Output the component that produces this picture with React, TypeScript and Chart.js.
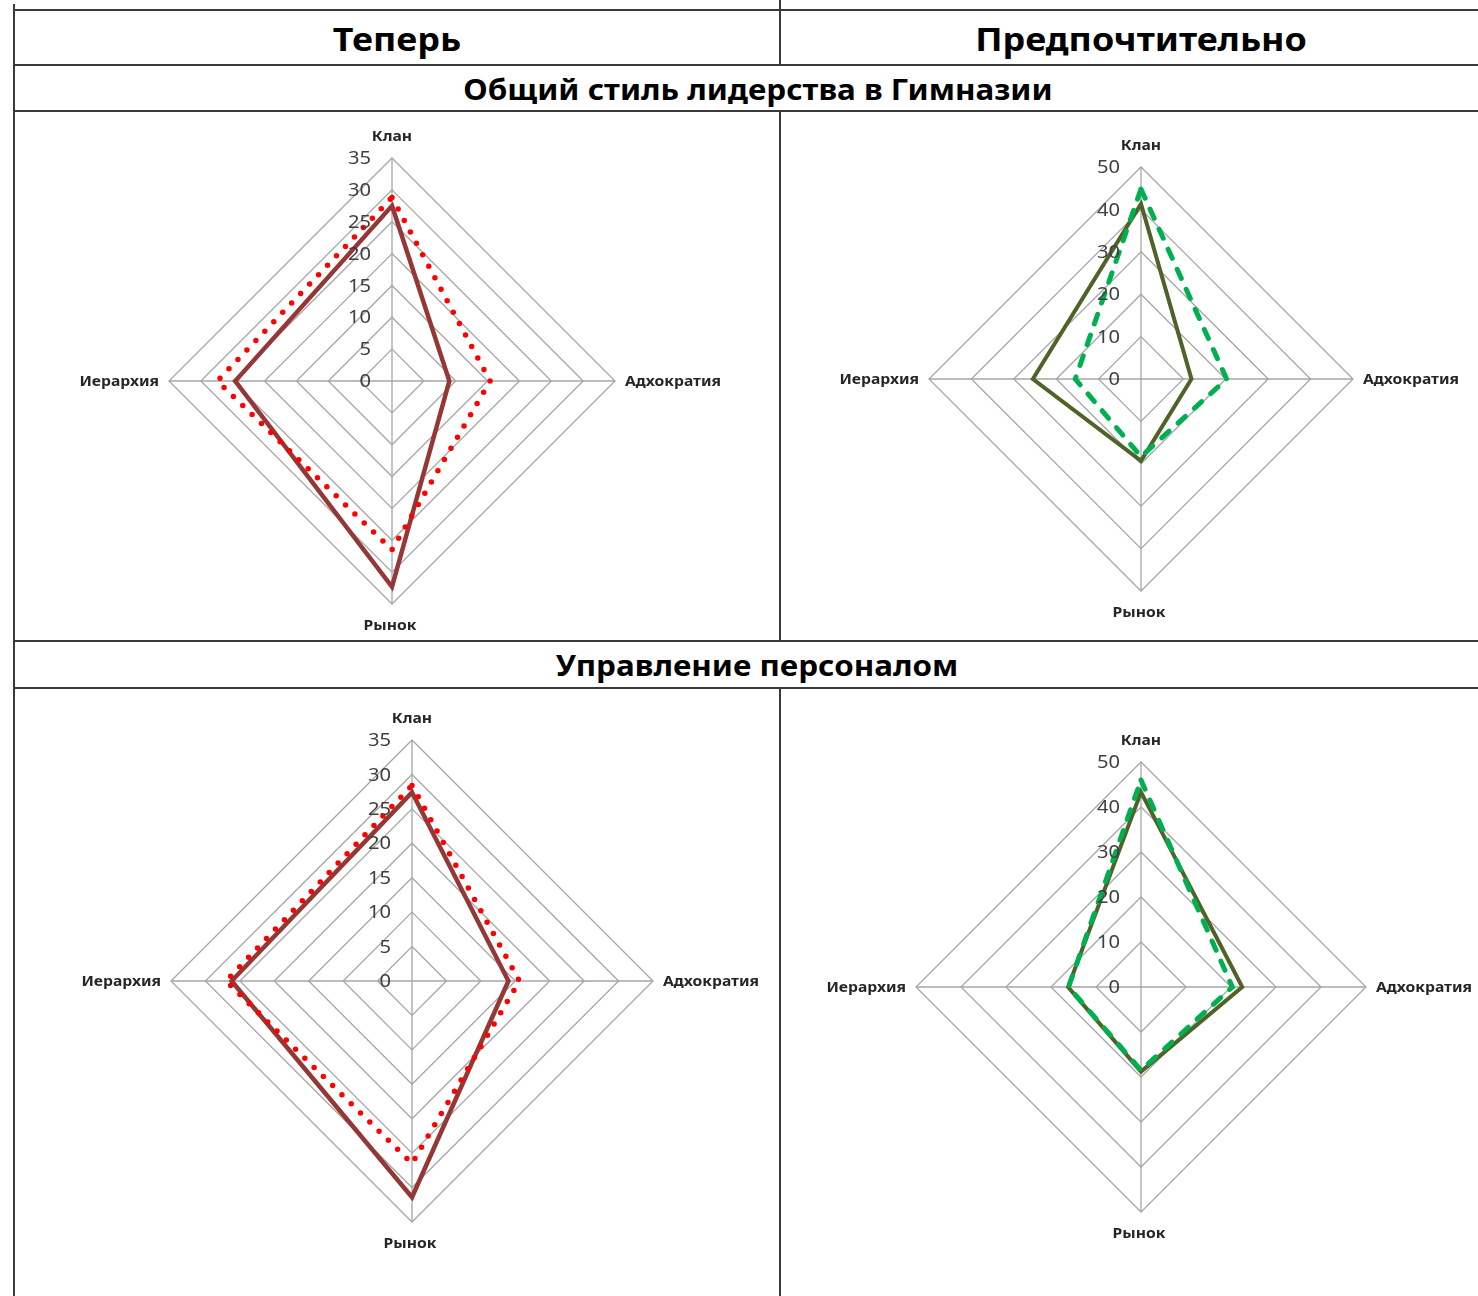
import React, { useEffect, useRef } from 'react';
import Chart from 'chart.js/auto';

// ---- data ----
const categories = ['Клан', 'Адхократия', 'Рынок', 'Иерархия'];
const columnTitles = ['Теперь', 'Предпочтительно'];
const sectionTitles = ['Общий стиль лидерства в Гимназии', 'Управление персоналом'];

const nowMax = 35;
const nowStep = 5;
const prefMax = 50;
const prefStep = 10;

// Общий стиль лидерства — Теперь
const leadNowSolid = [27.5, 9, 32.3, 24.6];
const leadNowDotted = [28.8, 15.4, 26.5, 27.4];
// Общий стиль лидерства — Предпочтительно
const leadPrefSolid = [41.3, 11.9, 19.3, 25.5];
const leadPrefDashed = [44.8, 20.2, 18.3, 15.5];
// Управление персоналом — Теперь
const staffNowSolid = [27.4, 14, 31.4, 26.2];
const staffNowDotted = [28.4, 15.6, 26.5, 27];
// Управление персоналом — Предпочтительно
const staffPrefSolid = [43.3, 22.5, 18.8, 16.2];
const staffPrefDashed = [46, 20.3, 18.5, 16.1];

type Series = {
  data: number[];
  color: string;
  width: number;
  dash: number[];
  cap: CanvasLineCap;
  order: number;
};

const MX = 130;
const MY = 50;
const TEXT_SX = 1.12;

function drawText(ctx: CanvasRenderingContext2D, text: string, x: number, y: number) {
  ctx.save();
  ctx.translate(x, y);
  ctx.scale(TEXT_SX, 1);
  ctx.fillText(text, 0, 0);
  ctx.restore();
}

const labelPlugin = {
  id: 'excelLabels',
  afterDraw(chart: any) {
    const s = chart.scales.r;
    const ctx = chart.ctx as CanvasRenderingContext2D;
    ctx.save();
    // tick labels, right-aligned left of the vertical axis
    ctx.font = '18px "Noto Sans"';
    ctx.fillStyle = '#404040';
    ctx.textAlign = 'right';
    ctx.textBaseline = 'middle';
    s.ticks.forEach((t: any) => {
      const p = s.getPointPositionForValue(0, t.value);
      drawText(ctx, String(t.value), p.x - 21, p.y + 1);
    });
    // category labels
    ctx.font = 'bold 14px "Noto Sans"';
    ctx.fillStyle = '#262626';
    const n = chart.data.labels.length;
    for (let i = 0; i < n; i++) {
      const p = s.getPointPositionForValue(i, s.max);
      const label = chart.data.labels[i];
      const ang = s.getIndexAngle(i);
      const deg = Math.round((ang * 180) / Math.PI) % 360;
      if (deg === 0) {
        ctx.textAlign = 'center';
        drawText(ctx, label, p.x, p.y - 21);
      } else if (deg === 180) {
        ctx.textAlign = 'center';
        drawText(ctx, label, p.x - 2, p.y + 22);
      } else if (deg === 90) {
        ctx.textAlign = 'left';
        drawText(ctx, label, p.x + 10, p.y + 1);
      } else {
        ctx.textAlign = 'right';
        drawText(ctx, label, p.x - 10, p.y + 1);
      }
    }
    ctx.restore();
  },
};

function RadarChart(props: { cx: number; cy: number; R: number; max: number; step: number; series: Series[] }) {
  const { cx, cy, R, max, step, series } = props;
  const ref = useRef<HTMLCanvasElement>(null);
  const W = 2 * R + 2 * MX;
  const H = 2 * R + 2 * MY;
  useEffect(() => {
    if (!ref.current) return;
    const chart = new Chart(ref.current, {
      type: 'radar',
      data: {
        labels: categories,
        datasets: series.map((s) => ({
          data: s.data,
          borderColor: s.color,
          borderWidth: s.width,
          borderDash: s.dash,
          borderCapStyle: s.cap,
          borderJoinStyle: 'miter',
          backgroundColor: 'transparent',
          fill: false,
          pointRadius: 0,
          pointHoverRadius: 0,
          tension: 0,
          order: s.order,
        })),
      },
      options: {
        responsive: false,
        maintainAspectRatio: false,
        animation: false,
        events: [],
        layout: { padding: { left: MX, right: MX, top: MY, bottom: MY } },
        plugins: { legend: { display: false }, tooltip: { enabled: false } },
        scales: {
          r: {
            min: 0,
            max,
            beginAtZero: true,
            ticks: { display: false, stepSize: step },
            grid: { color: '#a6a6a6', lineWidth: 1.3, circular: false },
            angleLines: { color: '#a6a6a6', lineWidth: 1.3 },
            pointLabels: { display: false },
          },
        },
      },
      plugins: [labelPlugin],
    } as any);
    return () => chart.destroy();
  }, []);
  return (
    <canvas
      ref={ref}
      width={W}
      height={H}
      style={{ position: 'absolute', left: cx - R - MX, top: cy - R - MY, width: W, height: H }}
    />
  );
}

const LINE = '#3a3a3a';

function HLine({ y }: { y: number }) {
  return <div style={{ position: 'absolute', left: 13, top: y, width: 1478 - 13, height: 2, background: LINE }} />;
}
function VLine({ x, y1, y2 }: { x: number; y1: number; y2: number }) {
  return <div style={{ position: 'absolute', left: x, top: y1, width: 2, height: y2 - y1, background: LINE }} />;
}
function Title({ text, cx, cy, size }: { text: string; cx: number; cy: number; size: number }) {
  return (
    <div
      style={{
        position: 'absolute',
        left: cx - 400,
        top: cy - size,
        width: 800,
        height: size * 2,
        lineHeight: `${size * 2}px`,
        textAlign: 'center',
        fontFamily: '"Noto Sans", sans-serif',
        fontWeight: 700,
        fontSize: size,
        color: '#000',
        whiteSpace: 'nowrap',
        transform: `scaleX(${TEXT_SX})`,
      }}
    >
      {text}
    </div>
  );
}

const brown = '#953735';
const red = '#ff0000';
const olive = '#4f6228';
const green = '#00b050';

function nowSeries(solid: number[], dotted: number[]): Series[] {
  return [
    { data: solid, color: brown, width: 4.5, dash: [], cap: 'butt', order: 2 },
    { data: dotted, color: red, width: 5.5, dash: [0, 13], cap: 'round', order: 1 },
  ];
}
function prefSeries(solid: number[], dashed: number[]): Series[] {
  return [
    { data: solid, color: olive, width: 4, dash: [], cap: 'butt', order: 2 },
    { data: dashed, color: green, width: 5, dash: [10, 12], cap: 'round', order: 1 },
  ];
}

export default function App() {
  return (
    <div
      style={{
        position: 'absolute',
        left: 0,
        top: 0,
        width: 1478,
        height: 1296,
        overflow: 'hidden',
        background: '#fff',
      }}
    >
      <VLine x={13} y1={4} y2={1296} />
      <HLine y={9} />
      <HLine y={64} />
      <HLine y={110} />
      <HLine y={640} />
      <HLine y={687} />
      <VLine x={779} y1={0} y2={64} />
      <VLine x={779} y1={111} y2={640} />
      <VLine x={779} y1={688} y2={1296} />

      <Title text={columnTitles[0]} cx={397} cy={39} size={32} />
      <Title text={columnTitles[1]} cx={1141} cy={39} size={32} />
      <Title text={sectionTitles[0]} cx={758} cy={89} size={28} />
      <Title text={sectionTitles[1]} cx={757} cy={665} size={28} />

      <RadarChart cx={392} cy={381} R={223} max={nowMax} step={nowStep} series={nowSeries(leadNowSolid, leadNowDotted)} />
      <RadarChart cx={1141} cy={379} R={212} max={prefMax} step={prefStep} series={prefSeries(leadPrefSolid, leadPrefDashed)} />
      <RadarChart cx={412} cy={981} R={241} max={nowMax} step={nowStep} series={nowSeries(staffNowSolid, staffNowDotted)} />
      <RadarChart cx={1141} cy={987} R={225} max={prefMax} step={prefStep} series={prefSeries(staffPrefSolid, staffPrefDashed)} />
    </div>
  );
}
